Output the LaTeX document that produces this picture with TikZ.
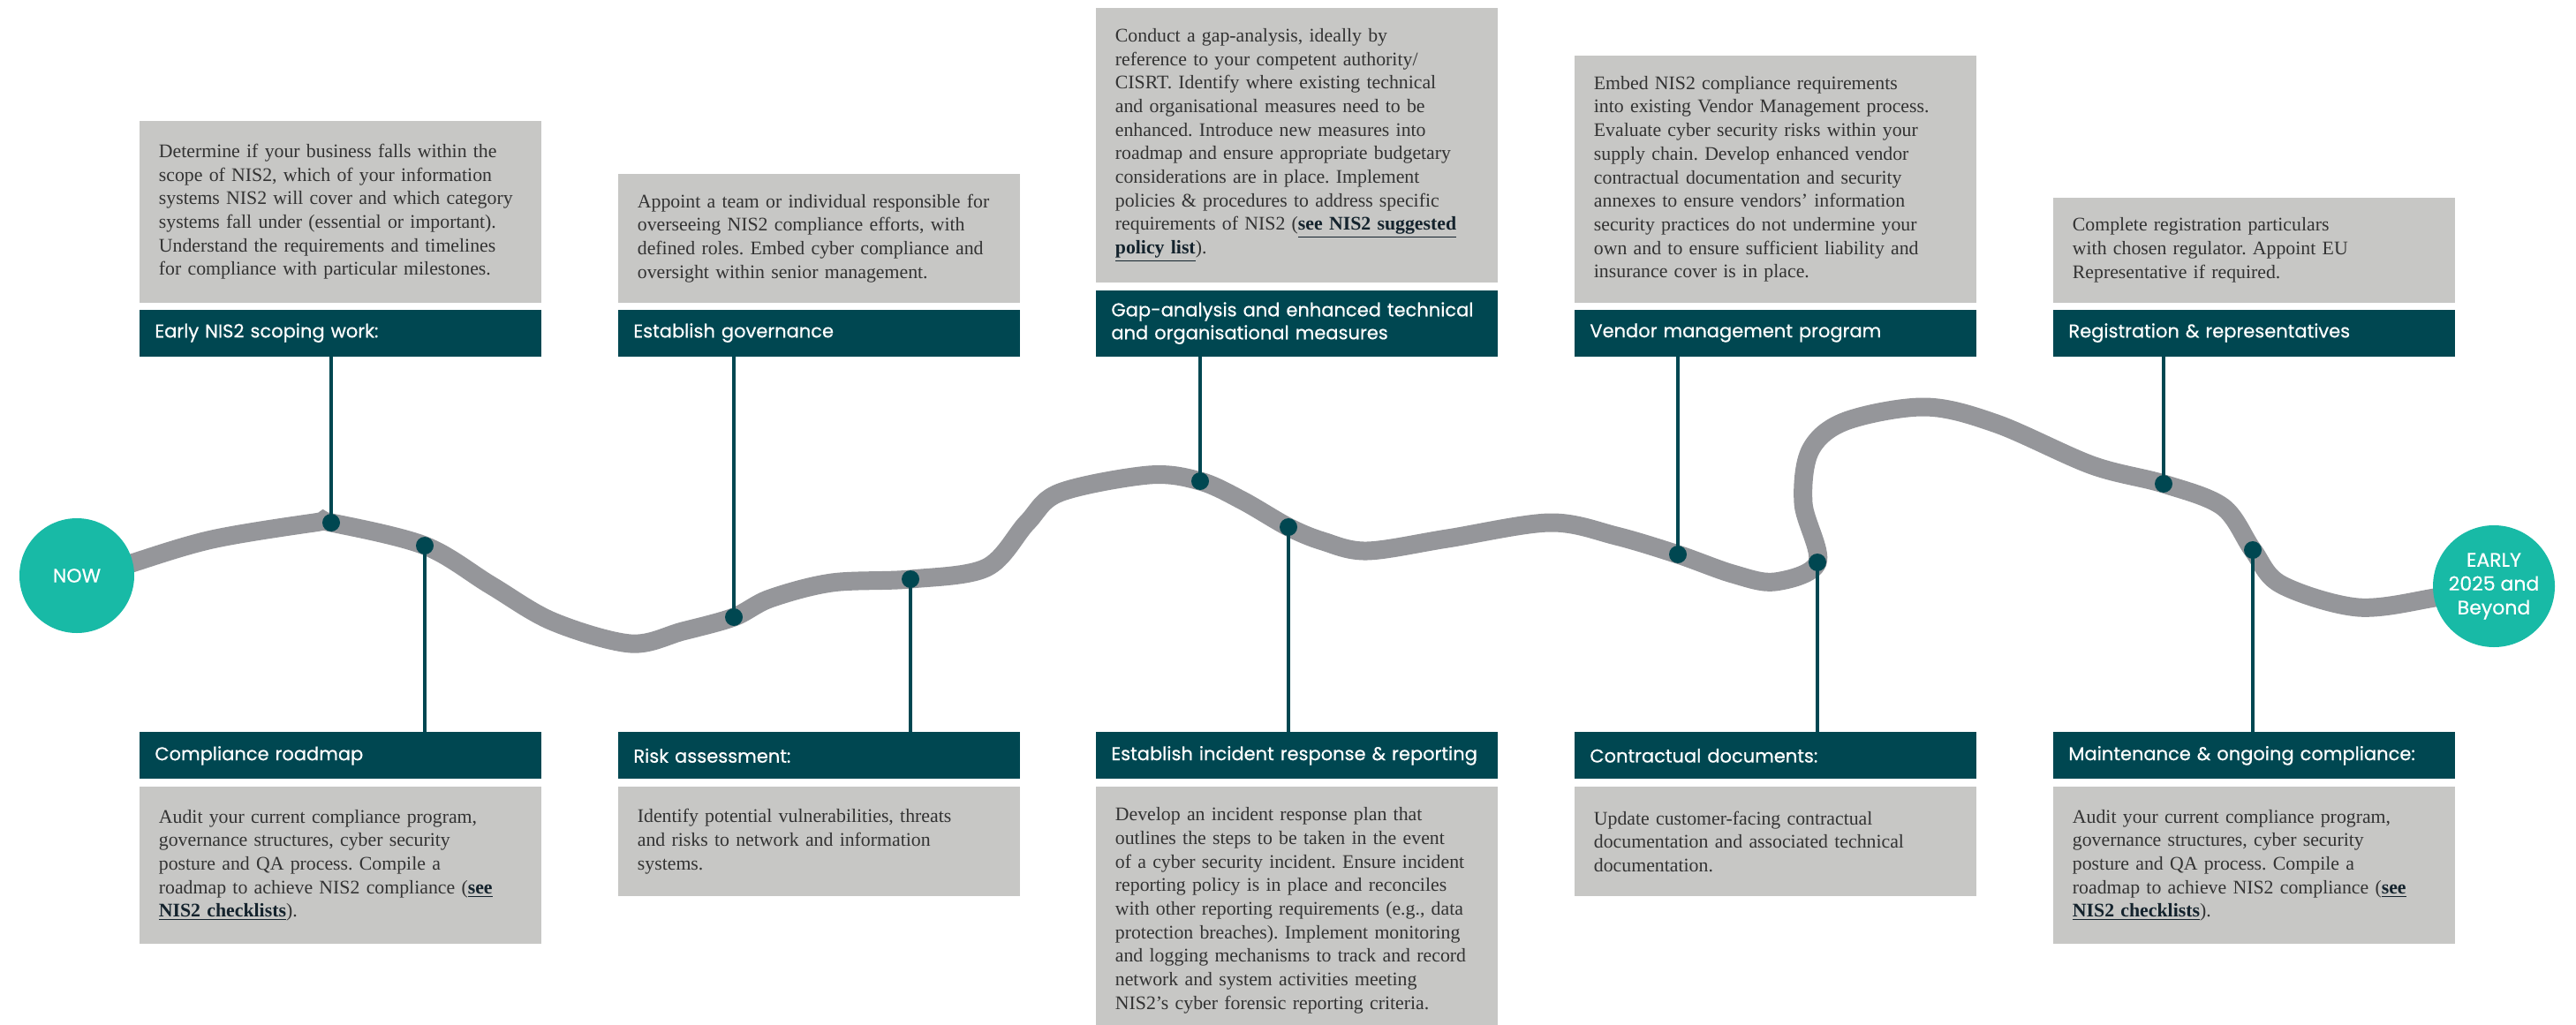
\documentclass[tikz,border=0pt]{standalone}
\usepackage{fontspec}
\setmainfont{Liberation Serif}
\newfontfamily\headfont{Poppins}[FakeBold=0.5]
\usetikzlibrary{positioning}
\frenchspacing

\definecolor{headteal}{RGB}{0,71,81}
\definecolor{notegrey}{RGB}{199,199,197}
\definecolor{roadgrey}{RGB}{149,150,154}
\definecolor{endteal}{RGB}{24,186,166}
\definecolor{notetext}{RGB}{51,51,51}
\definecolor{linktext}{RGB}{20,35,45}
\newcommand{\seelink}[1]{{\bfseries\color{linktext}\underline{#1}}}
\newcommand{\notefont}{\fontsize{10.9}{13.35}\selectfont\hyphenpenalty=10000\relax}

\tikzset{
  head/.style={fill=headteal, text=white, font=\headfont\fontsize{10.5}{13}\selectfont,
    minimum width=227.5pt, minimum height=26.5pt, text width=210.5pt,
    inner xsep=8.5pt, inner ysep=0pt, align=left},
  note/.style={fill=notegrey, text=notetext, font=\notefont,
    minimum width=227.5pt, minimum height=#1, text width=206pt,
    inner xsep=10.75pt, inner ysep=0pt, align=left},
  road/.style={draw=roadgrey, line width=10.5pt},
  conn/.style={draw=headteal, line width=2.4pt},
  knot/.style={circle, fill=headteal, inner sep=0pt, minimum size=10pt},
  ends/.style={circle, fill=endteal, text=white, font=\headfont\fontsize{11}{13.5}\selectfont,
    inner sep=0pt, align=center}
}

\begin{document}
\begin{tikzpicture}[x=1pt,y=-1pt]
    \useasboundingbox (0,0) rectangle (1458.5,580.5);

    % upper row
    \node[head, anchor=south west] (scope) at (79,202) {Early NIS2 scoping work:};
    \node[note=103pt, above=3.5pt of scope.north west, anchor=south west] (scopetxt)
        {Determine if your business falls within the\\scope of NIS2, which of your information\\systems NIS2 will cover and which category\\systems fall under (essential or important).\\Understand the requirements and timelines\\for compliance with particular milestones.};
    \node[head, anchor=south west] (gov) at (350,202) {Establish governance};
    \node[note=73pt, above=3.5pt of gov.north west, anchor=south west] (govtxt)
        {Appoint a team or individual responsible for\\overseeing NIS2 compliance efforts, with\\defined roles. Embed cyber compliance and\\oversight within senior management.};
    \node[head, anchor=south west, minimum height=37.5pt] (gap) at (620.5,202)
        {Gap-analysis and enhanced technical\\and organisational measures};
    \node[note=155.5pt, above=4pt of gap.north west, anchor=south west] (gaptxt)
        {Conduct a gap-analysis, ideally by\\reference to your competent authority/\\CISRT. Identify where existing technical\\and organisational measures need to be\\enhanced. Introduce new measures into\\roadmap and ensure appropriate budgetary\\considerations are in place. Implement\\policies \& procedures to address specific\\requirements of NIS2 (\seelink{see NIS2 suggested}\\\seelink{policy list}).};
    \node[head, anchor=south west] (vendor) at (891.5,202) {Vendor management program};
    \node[note=140pt, above=3.5pt of vendor.north west, anchor=south west] (vendortxt)
        {Embed NIS2 compliance requirements\\into existing Vendor Management process.\\Evaluate cyber security risks within your\\supply chain. Develop enhanced vendor\\contractual documentation and security\\annexes to ensure vendors’ information\\security practices do not undermine your\\own and to ensure sufficient liability and\\insurance cover is in place.};
    \node[head, anchor=south west] (reg) at (1162.5,202) {Registration \& representatives};
    \node[note=59.5pt, above=3.5pt of reg.north west, anchor=south west] (regtxt)
        {Complete registration particulars\\with chosen regulator. Appoint EU\\Representative if required.};

    % lower row
    \node[head, anchor=north west] (roadmap) at (79,414.5) {Compliance roadmap};
    \node[note=89pt, below=4pt of roadmap.south west, anchor=north west] (roadmaptxt)
        {Audit your current compliance program,\\governance structures, cyber security\\posture and QA process. Compile a\\roadmap to achieve NIS2 compliance (\seelink{see}\\\seelink{NIS2 checklists}).};
    \node[head, anchor=north west] (risk) at (350,414.5) {Risk assessment:};
    \node[note=62pt, below=4pt of risk.south west, anchor=north west] (risktxt)
        {Identify potential vulnerabilities, threats\\and risks to network and information\\systems.};
    \node[head, anchor=north west] (incident) at (620.5,414.5) {Establish incident response \& reporting};
    \node[note=140pt, below=4pt of incident.south west, anchor=north west] (incidenttxt)
        {Develop an incident response plan that\\outlines the steps to be taken in the event\\of a cyber security incident. Ensure incident\\reporting policy is in place and reconciles\\with other reporting requirements (e.g., data\\protection breaches). Implement monitoring\\and logging mechanisms to track and record\\network and system activities meeting\\NIS2’s cyber forensic reporting criteria.};
    \node[head, anchor=north west] (contract) at (891.5,414.5) {Contractual documents:};
    \node[note=62pt, below=4pt of contract.south west, anchor=north west] (contracttxt)
        {Update customer-facing contractual\\documentation and associated technical\\documentation.};
    \node[head, anchor=north west] (maint) at (1162.5,414.5) {Maintenance \& ongoing compliance:};
    \node[note=89pt, below=4pt of maint.south west, anchor=north west] (mainttxt)
        {Audit your current compliance program,\\governance structures, cyber security\\posture and QA process. Compile a\\roadmap to achieve NIS2 compliance (\seelink{see}\\\seelink{NIS2 checklists}).};

    % road
    \coordinate (ka) at (187.5,296);
    \coordinate (kb) at (240.5,309);
    \coordinate (kc) at (415.5,349.5);
    \coordinate (kd) at (515.5,328);
    \coordinate (ke) at (679.5,272.5);
    \coordinate (kf) at (729.5,298.5);
    \coordinate (kg) at (950,314);
    \coordinate (kh) at (1029,318.5);
    \coordinate (ki) at (1225,274);
    \coordinate (kj) at (1275.5,311.5);
    \draw[road] plot[smooth, tension=0.55] coordinates {(55,326) (74.5,319) (120,305.5) (178,296) (ka) (kb)
        (278,331.5) (313,352) (357,364.5) (386.5,357.5) (kc) (436,339) (471,330) (kd) (558.5,321.5)
        (581.5,296) (600,279) (650.5,269) (ke) (703.5,283.5) (kf) (749,306.5) (774,312) (819.5,305)
        (877.5,296) (915,303.5) (kg) (981,325) (1005,329.5) (kh) (1021,285) (1025,255) (1045,238.5)
        (1090,230.5) (1130.5,240) (1184.5,263.5) (ki) (1258.5,287) (kj) (1291.5,331) (1335,344)
        (1378.5,338.5) (1405,333)};

    \draw[conn] (ka) -- (ka |- scope.south);
    \draw[conn] (kb) -- (kb |- roadmap.north);
    \draw[conn] (kc) -- (kc |- gov.south);
    \draw[conn] (kd) -- (kd |- risk.north);
    \draw[conn] (ke) -- (ke |- gap.south);
    \draw[conn] (kf) -- (kf |- incident.north);
    \draw[conn] (kg) -- (kg |- vendor.south);
    \draw[conn] (kh) -- (kh |- contract.north);
    \draw[conn] (ki) -- (ki |- reg.south);
    \draw[conn] (kj) -- (kj |- maint.north);
    \foreach \k in {a,b,c,d,e,f,g,h,i,j}
        \node[knot] (d\k) at (k\k) {};

    \node[ends, minimum size=65pt] (now) at (43.5,326) {NOW};
    \node[ends, minimum size=69pt] (early) at (1412,332) {EARLY\\2025 and\\Beyond};
\end{tikzpicture}
\end{document}
